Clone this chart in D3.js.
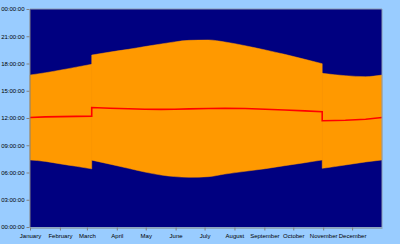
<!DOCTYPE html>
<html><head><meta charset="utf-8">
<script src="https://cdn.jsdelivr.net/npm/d3@7"></script>
<style>html,body{margin:0;padding:0;background:#99ccff;}svg{display:block;}</style>
</head><body>
<svg id="c" width="400" height="244"></svg>
<script>
const months = ["January","February","March","April","May","June","July","August","September","October","November","December"];
const monthStartDays = [0,31,59,90,120,151,181,212,243,273,304,334];
const yTickHours = [0,3,6,9,12,15,18,21,24];
const yTickLabels = ["00:00:00","03:00:00","06:00:00","09:00:00","12:00:00","15:00:00","18:00:00","21:00:00","00:00:00"];
// day of year, sunrise, sunset, solar noon (hours)
const days    = [0,    16,   32,   48,   64,   64,   83,   102,  119,  136,  150,  165,  185,  202,  223,  244,  264,  285,  303,  303,  316,  327,  348,  365];
const sunrise = [7.38, 7.22, 6.94, 6.68, 6.40, 7.36, 6.92, 6.46, 6.05, 5.72, 5.55, 5.47, 5.54, 5.83, 6.13, 6.42, 6.75, 7.08, 7.38, 6.46, 6.65, 6.83, 7.16, 7.38];
const sunset  = [16.73,16.98,17.28,17.60,17.91,18.93,19.26,19.56,19.86,20.15,20.38,20.55,20.59,20.37,19.96,19.49,19.01,18.46,17.98,16.92,16.76,16.66,16.55,16.73];
const noon    = [12.05,12.12,12.15,12.18,12.20,13.15,13.08,13.02,12.97,12.95,12.97,13.00,13.05,13.08,13.05,12.96,12.88,12.78,12.68,11.70,11.72,11.75,11.86,12.05];

const svg = d3.select("#c");
const L=30,T=9,R=382,B=227;
const x = d3.scaleLinear().domain([0,365]).range([L,R]);
const y = d3.scaleLinear().domain([0,24]).range([B,T]);
const data = days.map((d,i)=>({d, r:sunrise[i], s:sunset[i], n:noon[i]}));
// split into segments at the clock-change jumps (repeated day values)
const segs = [];
let cur = [];
data.forEach((p,i)=>{
  if (i>0 && p.d===data[i-1].d) { segs.push(cur); cur=[]; }
  cur.push(p);
});
segs.push(cur);

svg.append("rect").attr("x",L).attr("y",T).attr("width",R-L).attr("height",B-T).attr("fill","#000080");
const area = d3.area().curve(d3.curveMonotoneX).x(p=>x(p.d)).y0(p=>y(p.r)).y1(p=>y(p.s));
const line = d3.line().curve(d3.curveMonotoneX).x(p=>x(p.d)).y(p=>y(p.n));
segs.forEach(s=>{
  svg.append("path").datum(s).attr("fill","#ff9900").attr("stroke","#ff9900").attr("stroke-width",0.5).attr("d",area);
});
// fill vertical seams at jumps
for (let i=0;i<segs.length-1;i++){
  const a=segs[i][segs[i].length-1], b=segs[i+1][0];
  svg.append("rect").attr("x",x(a.d)-0.5).attr("width",1)
    .attr("y",y(Math.min(a.s,b.s))).attr("height",y(Math.max(a.r,b.r))-y(Math.min(a.s,b.s))).attr("fill","#ff9900");
}
const noonPts = [];
segs.forEach((s,i)=>{ noonPts.push(...s); });
svg.append("path").datum(data).attr("fill","none").attr("stroke","#ff0000").attr("stroke-width",1.6)
  .attr("d", d3.line().x(p=>x(p.d)).y(p=>y(p.n)));
// border top/right
svg.append("path").attr("d",`M${L},${T}H${R}V${B}`).attr("fill","none").attr("stroke","#8a9ab0").attr("stroke-width",1);

const yAxis = d3.axisLeft(y).tickValues(yTickHours).tickFormat((d,i)=>yTickLabels[i]).tickSize(3).tickSizeOuter(0).tickPadding(2);
const ga = svg.append("g").attr("transform",`translate(${L-0.5},0)`).call(yAxis);
const xAxis = d3.axisBottom(x).tickValues(monthStartDays).tickFormat((d,i)=>months[i]).tickSize(3).tickSizeOuter(0).tickPadding(3);
const gx = svg.append("g").attr("transform",`translate(0,${B+0.5})`).call(xAxis);
[ga,gx].forEach(g=>{
  g.selectAll("path.domain").attr("stroke","#808080");
  g.selectAll(".tick line").attr("stroke","#808080");
  g.selectAll("text").attr("fill","#000").style("font-family","'Liberation Sans',Arial,sans-serif").style("font-size","6px");
});
</script>
</body></html>
